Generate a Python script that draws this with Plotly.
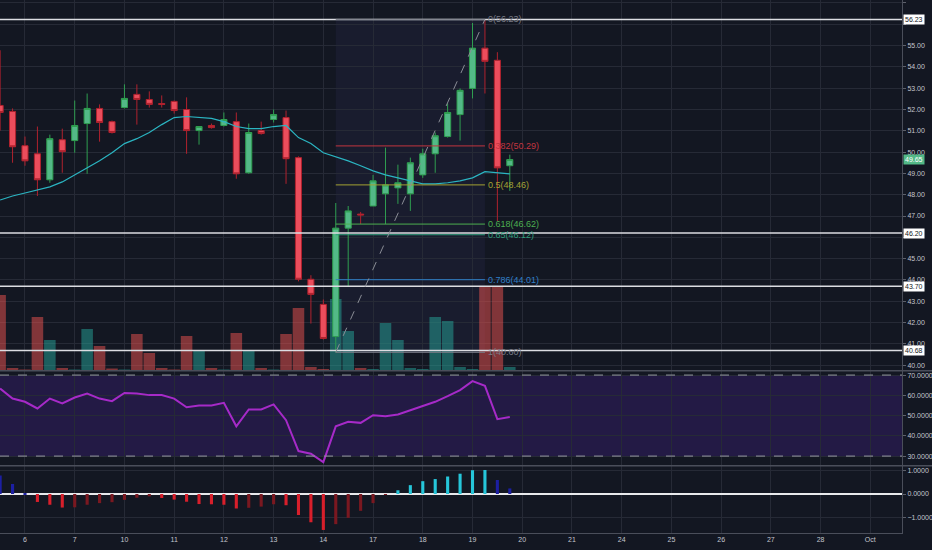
import plotly.graph_objects as go

# 4 bars per trading day, bar 0 = first bar of Sep 6
bars = list(range(-2, 40))
day_ticks = list(range(0, 72, 4))
day_labels = ["6", "7", "10", "11", "12", "13", "14", "17", "18", "19",
              "20", "21", "24", "25", "26", "27", "28", "Oct"]
price_ticks = list(range(40, 58))

opens = [52.19, 51.91, 50.30, 49.92, 48.70, 50.58, 50.54, 51.34, 52.05, 51.43,
         52.09, 52.71, 52.47, 52.28, 52.38, 52.00, 51.01, 51.25, 51.25, 51.43,
         49.03, 51.01, 51.53, 51.62, 49.74, 44.03, 42.85, 41.34, 46.43, 47.09,
         47.47, 48.04, 48.32, 48.04, 48.93, 49.92, 50.73, 51.76, 52.99, 54.88,
         54.31, 49.36]
highs = [54.78, 52.05, 50.73, 51.20, 50.82, 51.10, 52.42, 52.75, 52.24, 51.48,
         53.18, 53.18, 52.85, 52.66, 52.42, 52.57, 51.20, 51.34, 51.86, 51.86,
         51.34, 51.43, 52.00, 51.95, 49.80, 44.22, 43.08, 47.61, 47.47, 47.19,
         48.93, 50.21, 49.41, 49.74, 50.16, 50.92, 52.28, 52.99, 56.06, 56.23,
         54.69, 49.88]
lows = [51.01, 49.50, 49.36, 47.94, 48.56, 49.03, 49.97, 48.98, 50.49, 50.87,
        52.05, 51.29, 52.09, 52.09, 51.81, 49.92, 50.35, 51.10, 51.20, 48.75,
        48.98, 50.82, 51.39, 48.51, 43.93, 41.95, 41.20, 40.60, 43.70, 46.62,
        47.47, 46.62, 47.57, 47.24, 48.79, 49.03, 50.68, 50.54, 52.52, 52.75,
        46.76, 48.18]
closes = [51.86, 50.25, 49.59, 48.70, 50.63, 50.02, 51.25, 52.05, 51.39, 50.92,
          52.52, 52.47, 52.24, 52.24, 51.95, 51.01, 51.20, 51.15, 51.53, 48.98,
          50.92, 50.87, 51.76, 49.69, 44.03, 43.32, 41.25, 46.43, 47.24, 47.05,
          48.65, 48.46, 48.56, 49.50, 49.92, 50.77, 51.86, 52.90, 54.88, 54.26,
          49.26, 49.65]
# volume, thousands
volume = [750, 20, 5, 530, 300, 20, 5, 410, 240, 15,
          5, 360, 170, 20, 5, 340, 190, 20, 5, 370,
          200, 20, 5, 360, 620, 30, 10, 710, 390, 20,
          10, 470, 300, 20, 10, 530, 490, 30, 10, 830,
          840, 30]
ma = [47.75, 47.94, 48.08, 48.23, 48.37, 48.60, 48.93, 49.26, 49.59, 49.97,
      50.40, 50.63, 50.92, 51.29, 51.62, 51.67, 51.62, 51.58, 51.43, 51.20,
      51.10, 51.10, 51.20, 51.25, 50.68, 50.40, 49.97, 49.78, 49.59, 49.36,
      49.12, 48.93, 48.79, 48.65, 48.51, 48.51, 48.56, 48.65, 48.79, 49.08,
      49.03, 48.98]
rsi = [63.4, 58.4, 56.8, 53.5, 58.4, 56.0, 58.9, 60.9, 58.4, 57.1,
       61.2, 60.9, 60.1, 60.1, 58.4, 54.1, 55.0, 55.0, 56.3, 44.7,
       53.0, 53.0, 55.5, 47.7, 32.5, 31.2, 27.0, 44.7, 46.9, 46.4,
       50.2, 49.7, 50.5, 52.6, 54.6, 56.8, 59.6, 62.6, 67.0, 64.7,
       48.2, 49.3]
macd_hist = [0.79, 0.43, 0.03, -0.34, -0.46, -0.58, -0.57, -0.46, -0.39, -0.35,
             -0.25, -0.16, -0.10, -0.17, -0.24, -0.33, -0.43, -0.44, -0.46, -0.62,
             -0.59, -0.54, -0.44, -0.48, -0.90, -1.21, -1.54, -1.29, -1.02, -0.72,
             -0.39, -0.02, 0.16, 0.38, 0.55, 0.64, 0.75, 0.87, 1.02, 1.03,
             0.60, 0.24]

levels = [56.23, 46.20, 43.70, 40.68]
last_price = 49.65

fib_ratios = [0, 0.382, 0.5, 0.618, 0.65, 0.786, 1]
fib_prices = [56.23, 50.29, 48.46, 46.62, 46.12, 44.01, 40.60]

BG = "#131722"
GRID = "#262a36"
TEXT = "#c3c6ce"
FONT = "Liberation Sans"
FIB_COLORS = ["#787b86", "#c2353f", "#a3a132", "#4caf50", "#2e9e7a",
              "#2f7fc8", "#787b86"]
FIB_X0, FIB_X1 = 25.0, 37.0


def macd_colors(hist):
    colors = []
    prev = None
    for v in hist:
        rising = prev is not None and v > prev
        if v >= 0:
            colors.append("#26c6da" if rising else "#1c1fa3")
        else:
            colors.append("#7a1820" if rising else "#d81f2b")
        prev = v
    return colors


def build():
    fig = go.Figure()

    vol_colors = ["rgba(38,166,154,0.5)" if c >= o else "rgba(239,83,80,0.5)"
                  for o, c in zip(opens, closes)]
    fig.add_trace(go.Bar(x=bars, y=volume, marker_color=vol_colors,
                         marker_line_width=0, width=0.93, yaxis="y"))

    fig.add_trace(go.Candlestick(
        x=bars, open=opens, high=highs, low=lows, close=closes, yaxis="y2",
        whiskerwidth=0,
        increasing=dict(fillcolor="#53b987", line=dict(color="#2f9e50", width=1)),
        decreasing=dict(fillcolor="#eb4d5c", line=dict(color="#b0222e", width=1))))

    fig.add_trace(go.Scatter(x=bars, y=ma, mode="lines", yaxis="y2",
                             line=dict(color="#2bb5c2", width=1.2)))

    fig.add_trace(go.Scatter(x=bars, y=rsi, mode="lines", yaxis="y3",
                             line=dict(color="#a62ac8", width=2)))

    fig.add_trace(go.Bar(x=bars, y=macd_hist, marker_color=macd_colors(macd_hist),
                         marker_line_width=0, width=0.25, yaxis="y4"))

    shapes = []
    # rsi band
    shapes.append(dict(type="rect", xref="paper", x0=0, x1=1, yref="y3", y0=30, y1=70,
                       fillcolor="#231a45", line_width=0, layer="below"))
    for v in (30, 70):
        shapes.append(dict(type="line", xref="paper", x0=0, x1=1, yref="y3", y0=v, y1=v,
                           line=dict(color="#9598a1", width=1, dash="dash")))
    # fib area
    shapes.append(dict(type="rect", xref="x", x0=FIB_X0, x1=FIB_X1, yref="y2",
                       y0=fib_prices[-1], y1=fib_prices[0],
                       fillcolor="rgba(120,100,210,0.07)", line_width=0, layer="below"))
    # horizontal levels
    for p in levels:
        shapes.append(dict(type="line", xref="paper", x0=0, x1=1, yref="y2", y0=p, y1=p,
                           line=dict(color="#dcdde2", width=1.5)))
    for p, c in zip(fib_prices, FIB_COLORS):
        shapes.append(dict(type="line", xref="x", x0=FIB_X0, x1=FIB_X1, yref="y2",
                           y0=p, y1=p, line=dict(color=c, width=1)))
    shapes.append(dict(type="line", xref="x", x0=FIB_X0, x1=FIB_X1, yref="y2",
                       y0=fib_prices[-1], y1=fib_prices[0],
                       line=dict(color="#8a8d96", width=1, dash="dash")))
    # pane separators
    for yp in (0.3045, 0.1263):
        shapes.append(dict(type="line", xref="paper", x0=0, x1=1.04, yref="paper",
                           y0=yp, y1=yp, line=dict(color="#4a4e5a", width=1.5)))

    annotations = []
    for p in levels:
        annotations.append(dict(xref="paper", x=1, xanchor="left", xshift=1,
                                yref="y2", y=p, text=f"{p:.2f}", showarrow=False,
                                bgcolor="#ffffff", borderpad=1,
                                font=dict(family=FONT, size=7, color="#131722")))
    annotations.append(dict(xref="paper", x=1, xanchor="left", xshift=1,
                            yref="y2", y=last_price, text=f"{last_price:.2f}",
                            showarrow=False, bgcolor="#53b987", borderpad=1,
                            font=dict(family=FONT, size=7, color="#ffffff")))
    for r, p, c in zip(fib_ratios, fib_prices, FIB_COLORS):
        annotations.append(dict(xref="x", x=FIB_X1 + 0.1, xanchor="left",
                                yref="y2", y=p, text=f"{r:g}({p:.2f})",
                                showarrow=False,
                                font=dict(family=FONT, size=9, color=c)))

    # ticks fully hidden behind a level label are left blank
    hidden = [round(p) for p in levels[:2]]
    price_text = ["" if v in hidden else f"{v:.2f}" for v in price_ticks]

    yax = dict(side="right", showgrid=True, gridcolor=GRID, gridwidth=1,
               zeroline=False, ticks="outside", ticklen=3, tickcolor="#5d606b",
               showline=True, linecolor="#4a4e5a", linewidth=1,
               tickfont=dict(family=FONT, size=7, color=TEXT))

    fig.update_layout(
        width=932, height=550,
        margin=dict(l=0, r=30, t=0, b=17),
        paper_bgcolor=BG, plot_bgcolor=BG,
        showlegend=False,
        shapes=shapes, annotations=annotations,
        xaxis=dict(range=[-2.01, 70.55], anchor="y4", tickvals=day_ticks,
                   ticktext=day_labels, showgrid=True, gridcolor=GRID,
                   zeroline=False, showline=True, linecolor="#4a4e5a",
                   ticks="", rangeslider=dict(visible=False),
                   tickfont=dict(family=FONT, size=7, color=TEXT)),
        yaxis=dict(domain=[0.3058, 1], range=[0, 3700], visible=False,
                   showgrid=False, fixedrange=True),
        yaxis2=dict(yax, overlaying="y", anchor="x", range=[39.77, 57.14],
                    tickvals=price_ticks, ticktext=price_text),
        yaxis3=dict(yax, domain=[0.1276, 0.3039], anchor="x", range=[25.6, 72.0],
                    tickvals=[30, 40, 50, 60, 70], tickformat=".4f"),
        yaxis4=dict(yax, domain=[0, 0.1257], anchor="x", range=[-1.67, 1.20],
                    tickvals=[-1, 0, 1], tickformat=".4f",
                    zeroline=True, zerolinecolor="#e8e9ec", zerolinewidth=2),
    )
    return fig


def main():
    fig = build()
    # page has default body margin, drop it so the chart fills the window
    fig.write_html("out.html", config={"displayModeBar": False},
                   post_script="document.body.style.margin='0';"
                               "document.body.style.background='#131722';")


if __name__ == "__main__":
    main()
